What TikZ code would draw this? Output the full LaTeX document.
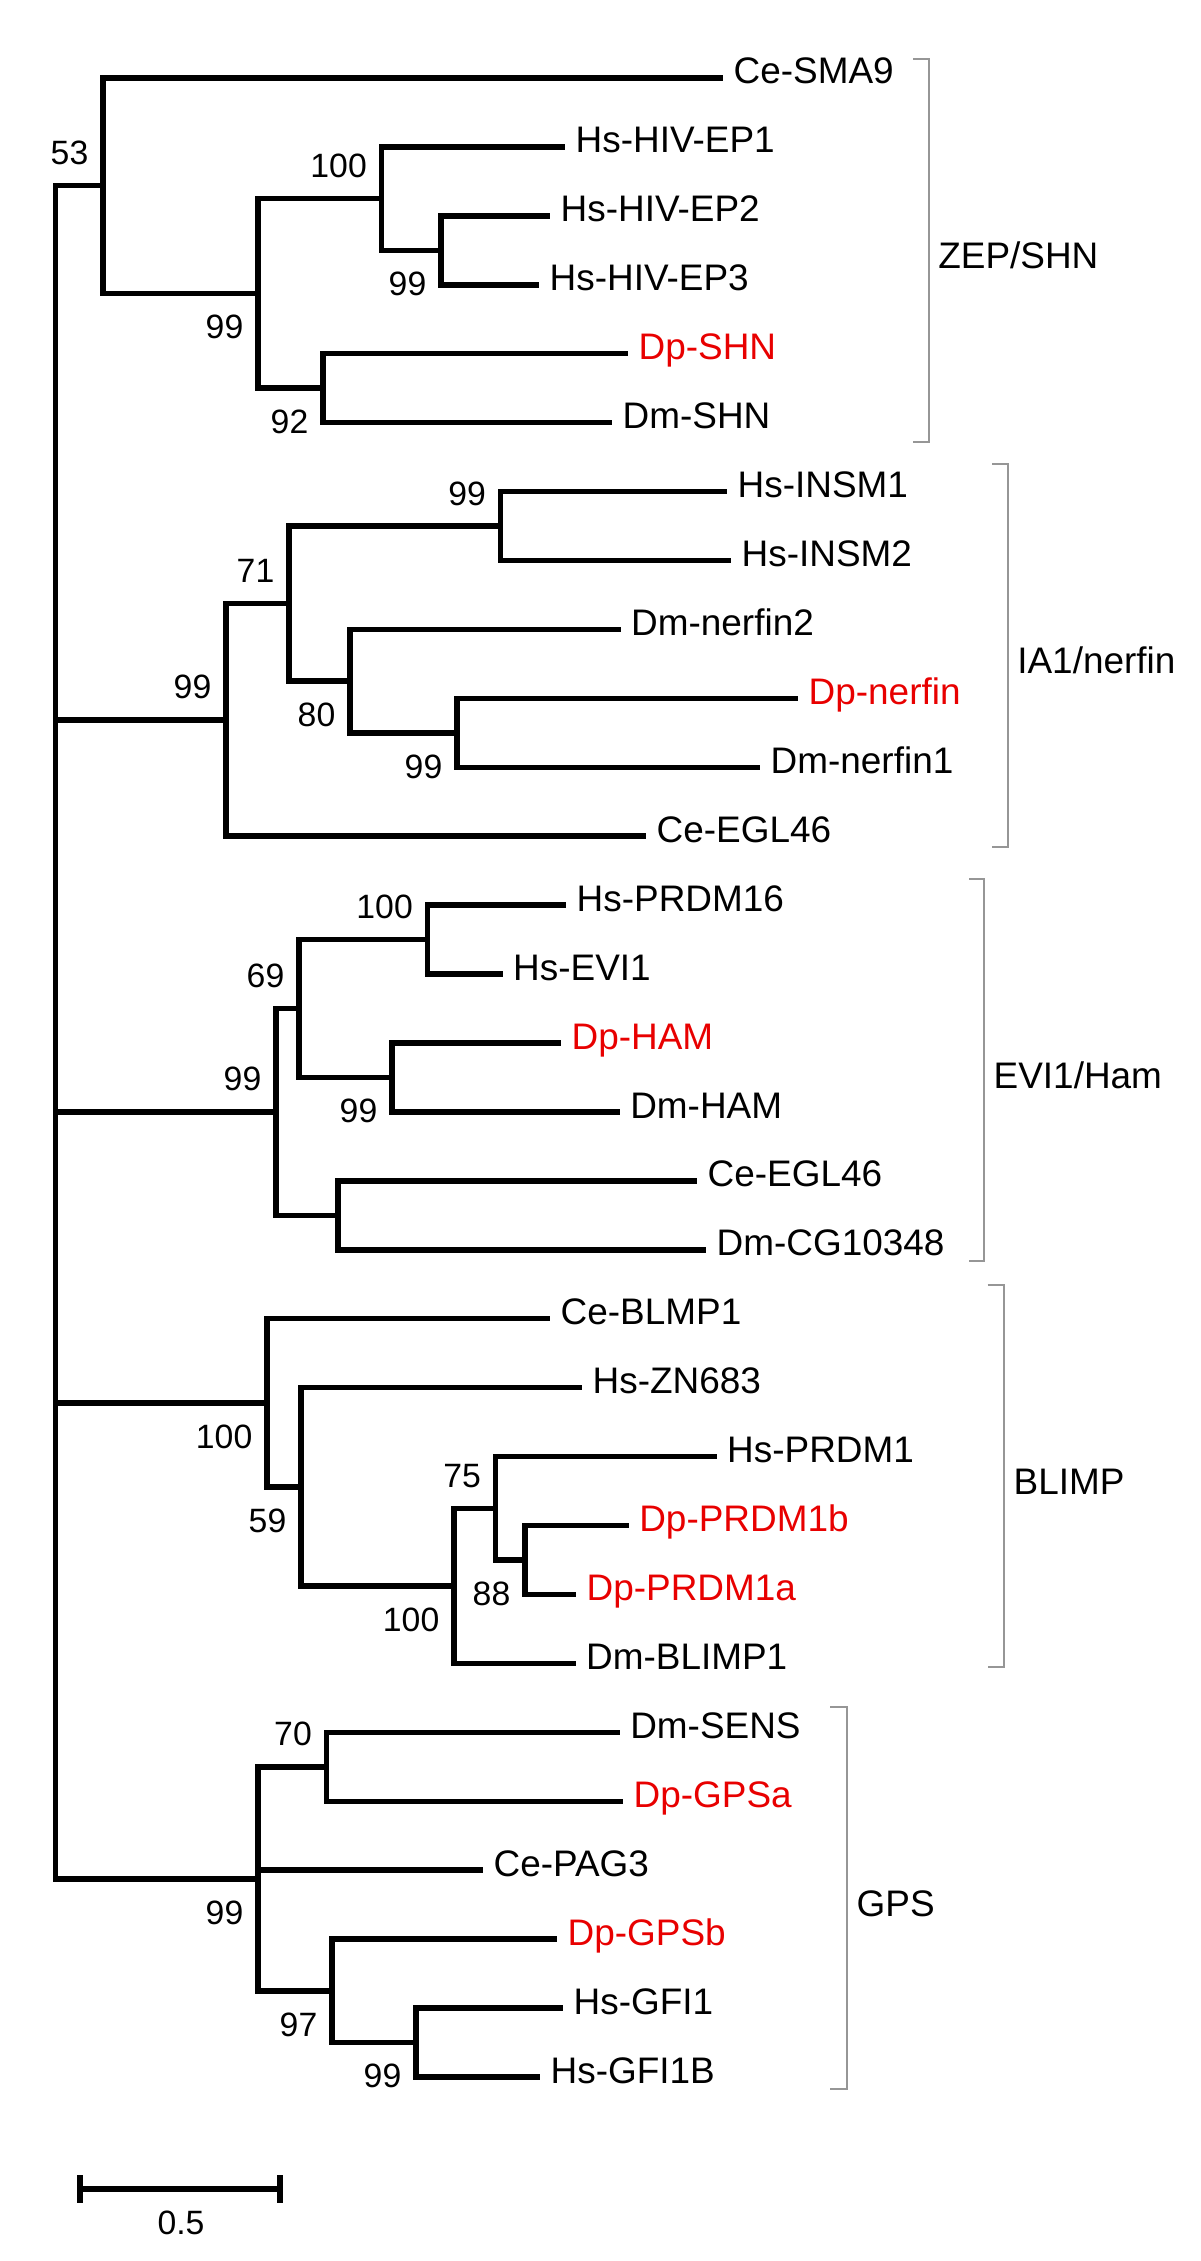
\documentclass[tikz,border=0pt]{standalone}
\usepackage{fontspec}
\setmainfont{Liberation Sans}
\newcommand{\lfnt}{\fontsize{10.5}{12}\selectfont}
\newcommand{\bfnt}{\fontsize{9.6}{11}\selectfont}
\definecolor{dpred}{RGB}{232,0,0}
\definecolor{bkgray}{RGB}{150,150,150}
\tikzset{
  br/.style={line width=0.055cm, line cap=butt, line join=miter},
  leaf/.style={anchor=base west, inner sep=0pt, font=\lfnt, xshift=0.10cm, yshift=-0.06cm},
  dp/.style={leaf, text=dpred},
  bsa/.style={anchor=south east, inner sep=0pt, font=\bfnt, xshift=-0.14cm, yshift=0.20cm},
  bsb/.style={anchor=north east, inner sep=0pt, font=\bfnt, xshift=-0.14cm, yshift=-0.21cm},
  grp/.style={line width=0.02cm, draw=bkgray, line join=miter},
  grplabel/.style={anchor=base west, inner sep=0pt, font=\lfnt, xshift=0.09cm, yshift=-0.18cm}
}
\begin{document}
\begin{tikzpicture}[x=0.01cm, y=-0.01cm]
\useasboundingbox (0,0) rectangle (1200,2261);

% ---------- leaf ends ----------
\coordinate (L0) at (723,78);
\coordinate (L1) at (565,146.9);
\coordinate (L2) at (550,215.9);
\coordinate (L3) at (539,284.8);
\coordinate (L4) at (628,353.7);
\coordinate (L5) at (612,422.7);
\coordinate (L6) at (727,491.6);
\coordinate (L7) at (731,560.5);
\coordinate (L8) at (620.5,629.4);
\coordinate (L9) at (798,698.4);
\coordinate (L10) at (760,767.3);
\coordinate (L11) at (646,836.2);
\coordinate (L12) at (566,905.2);
\coordinate (L13) at (502.5,974.1);
\coordinate (L14) at (561,1043.0);
\coordinate (L15) at (619.6,1112.0);
\coordinate (L16) at (697,1180.9);
\coordinate (L17) at (706,1249.8);
\coordinate (L18) at (550,1318.7);
\coordinate (L19) at (582,1387.7);
\coordinate (L20) at (716.5,1456.6);
\coordinate (L21) at (628.6,1525.5);
\coordinate (L22) at (576,1594.5);
\coordinate (L23) at (575.5,1663.4);
\coordinate (L24) at (619.6,1732.3);
\coordinate (L25) at (623,1801.3);
\coordinate (L26) at (483,1870.2);
\coordinate (L27) at (557,1939.1);
\coordinate (L28) at (563,2008.0);
\coordinate (L29) at (540,2077.0);

% ---------- internal nodes ----------
\coordinate (root) at (55.5,1032.25);
\coordinate (nEPb) at (441,250.4);
\coordinate (nEP) at (381.5,198.6);
\coordinate (nSHN) at (323,388.2);
\coordinate (nZEP) at (258,293.4);
\coordinate (n53) at (103,185.7);
\coordinate (nINSM) at (500.6,526.1);
\coordinate (nNerf) at (457,732.8);
\coordinate (n80) at (350,681.1);
\coordinate (n71) at (289,603.6);
\coordinate (nIA) at (226,719.9);
\coordinate (nPR16) at (427.5,939.6);
\coordinate (nHAM) at (392,1077.5);
\coordinate (n69) at (299,1008.6);
\coordinate (nEGL) at (338,1215.4);
\coordinate (nEVI) at (276,1112);
\coordinate (n88) at (525,1560);
\coordinate (n75) at (495.6,1508.3);
\coordinate (nB100) at (454,1585.9);
\coordinate (n59) at (301,1486.8);
\coordinate (nBL) at (267,1402.8);
\coordinate (n70) at (326.5,1766.8);
\coordinate (nGFI) at (416,2042.5);
\coordinate (n97) at (332,1990.8);
\coordinate (nGPS) at (258,1878.8);

% ---------- branches ----------
\draw[br] (root) |- (n53);
\draw[br] (root) |- (nIA);
\draw[br] (root) |- (nEVI);
\draw[br] (root) |- (nBL);
\draw[br] (root) |- (nGPS);
% ZEP/SHN
\draw[br] (n53) |- (L0);
\draw[br] (n53) |- (nZEP);
\draw[br] (nZEP) |- (nEP);
\draw[br] (nZEP) |- (nSHN);
\draw[br] (nEP) |- (L1);
\draw[br] (nEP) |- (nEPb);
\draw[br] (nEPb) |- (L2);
\draw[br] (nEPb) |- (L3);
\draw[br] (nSHN) |- (L4);
\draw[br] (nSHN) |- (L5);
% IA1/nerfin
\draw[br] (nIA) |- (n71);
\draw[br] (nIA) |- (L11);
\draw[br] (n71) |- (nINSM);
\draw[br] (n71) |- (n80);
\draw[br] (nINSM) |- (L6);
\draw[br] (nINSM) |- (L7);
\draw[br] (n80) |- (L8);
\draw[br] (n80) |- (nNerf);
\draw[br] (nNerf) |- (L9);
\draw[br] (nNerf) |- (L10);
% EVI1/Ham
\draw[br] (nEVI) |- (n69);
\draw[br] (nEVI) |- (nEGL);
\draw[br] (n69) |- (nPR16);
\draw[br] (n69) |- (nHAM);
\draw[br] (nPR16) |- (L12);
\draw[br] (nPR16) |- (L13);
\draw[br] (nHAM) |- (L14);
\draw[br] (nHAM) |- (L15);
\draw[br] (nEGL) |- (L16);
\draw[br] (nEGL) |- (L17);
% BLIMP
\draw[br] (nBL) |- (L18);
\draw[br] (nBL) |- (n59);
\draw[br] (n59) |- (L19);
\draw[br] (n59) |- (nB100);
\draw[br] (nB100) |- (n75);
\draw[br] (nB100) |- (L23);
\draw[br] (n75) |- (L20);
\draw[br] (n75) |- (n88);
\draw[br] (n88) |- (L21);
\draw[br] (n88) |- (L22);
% GPS
\draw[br] (nGPS) |- (n70);
\draw[br] (nGPS) |- (L26);
\draw[br] (nGPS) |- (n97);
\draw[br] (n70) |- (L24);
\draw[br] (n70) |- (L25);
\draw[br] (n97) |- (L27);
\draw[br] (n97) |- (nGFI);
\draw[br] (nGFI) |- (L28);
\draw[br] (nGFI) |- (L29);

% ---------- leaf labels ----------
\node[leaf] (t0) at (L0) {Ce-SMA9};
\node[leaf] (t1) at (L1) {Hs-HIV-EP1};
\node[leaf] (t2) at (L2) {Hs-HIV-EP2};
\node[leaf] (t3) at (L3) {Hs-HIV-EP3};
\node[dp] (t4) at (L4) {Dp-SHN};
\node[leaf] (t5) at (L5) {Dm-SHN};
\node[leaf] (t6) at (L6) {Hs-INSM1};
\node[leaf] (t7) at (L7) {Hs-INSM2};
\node[leaf] (t8) at (L8) {Dm-nerfin2};
\node[dp] (t9) at (L9) {Dp-nerfin};
\node[leaf] (t10) at (L10) {Dm-nerfin1};
\node[leaf] (t11) at (L11) {Ce-EGL46};
\node[leaf] (t12) at (L12) {Hs-PRDM16};
\node[leaf] (t13) at (L13) {Hs-EVI1};
\node[dp] (t14) at (L14) {Dp-HAM};
\node[leaf] (t15) at (L15) {Dm-HAM};
\node[leaf] (t16) at (L16) {Ce-EGL46};
\node[leaf] (t17) at (L17) {Dm-CG10348};
\node[leaf] (t18) at (L18) {Ce-BLMP1};
\node[leaf] (t19) at (L19) {Hs-ZN683};
\node[leaf] (t20) at (L20) {Hs-PRDM1};
\node[dp] (t21) at (L21) {Dp-PRDM1b};
\node[dp] (t22) at (L22) {Dp-PRDM1a};
\node[leaf] (t23) at (L23) {Dm-BLIMP1};
\node[leaf] (t24) at (L24) {Dm-SENS};
\node[dp] (t25) at (L25) {Dp-GPSa};
\node[leaf] (t26) at (L26) {Ce-PAG3};
\node[dp] (t27) at (L27) {Dp-GPSb};
\node[leaf] (t28) at (L28) {Hs-GFI1};
\node[leaf] (t29) at (L29) {Hs-GFI1B};

% ---------- bootstrap values ----------
\node[bsa] (b53) at (n53) {53};
\node[bsa] (bEP) at (nEP) {100};
\node[bsb] (bZEP) at (nZEP) {99};
\node[bsb] (bEPb) at (nEPb) {99};
\node[bsb] (bSHN) at (nSHN) {92};
\node[bsa] (bINSM) at (nINSM) {99};
\node[bsa] (b71) at (n71) {71};
\node[bsa] (bIA) at (nIA) {99};
\node[bsb] (b80) at (n80) {80};
\node[bsb] (bNerf) at (nNerf) {99};
\node[bsa] (bPR16) at (nPR16) {100};
\node[bsa] (b69) at (n69) {69};
\node[bsa] (bEVI) at (nEVI) {99};
\node[bsb] (bHAM) at (nHAM) {99};
\node[bsb] (bBL) at (nBL) {100};
\node[bsb] (b59) at (n59) {59};
\node[bsa] (b75) at (n75) {75};
\node[bsb] (b88) at (n88) {88};
\node[bsb] (bB100) at (nB100) {100};
\node[bsa] (b70) at (n70) {70};
\node[bsb] (bGPS) at (nGPS) {99};
\node[bsb] (b97) at (n97) {97};
\node[bsb] (bGFI) at (nGFI) {99};

% ---------- group brackets ----------
\draw[grp] (913,59) -- (928.6,59) -- (928.6,442) -- (913,442);
\node[grplabel] (gZEP) at (928.6,250.5) {ZEP/SHN};
\draw[grp] (992,464) -- (1007.6,464) -- (1007.6,847) -- (992,847);
\node[grplabel] (gIA) at (1007.6,655.5) {IA1/nerfin};
\draw[grp] (969,879) -- (984,879) -- (984,1261) -- (969,1261);
\node[grplabel] (gEVI) at (984,1070) {EVI1/Ham};
\draw[grp] (987.5,1285) -- (1004,1285) -- (1004,1667) -- (987.5,1667);
\node[grplabel] (gBL) at (1004,1476) {BLIMP};
\draw[grp] (830,1707) -- (847,1707) -- (847,2089) -- (830,2089);
\node[grplabel] (gGPS) at (847,1898) {GPS};

% ---------- scale bar ----------
\coordinate (sb1) at (80,2189);
\coordinate (sb2) at (280,2189);
\draw[br] (sb1) -- (sb2);
\draw[br] ([yshift=0.14cm]sb1) -- ([yshift=-0.14cm]sb1);
\draw[br] ([yshift=0.14cm]sb2) -- ([yshift=-0.14cm]sb2);
\node[anchor=north, inner sep=0pt, font=\bfnt] (sbl) at (181,2210) {0.5};
\end{tikzpicture}
\end{document}
